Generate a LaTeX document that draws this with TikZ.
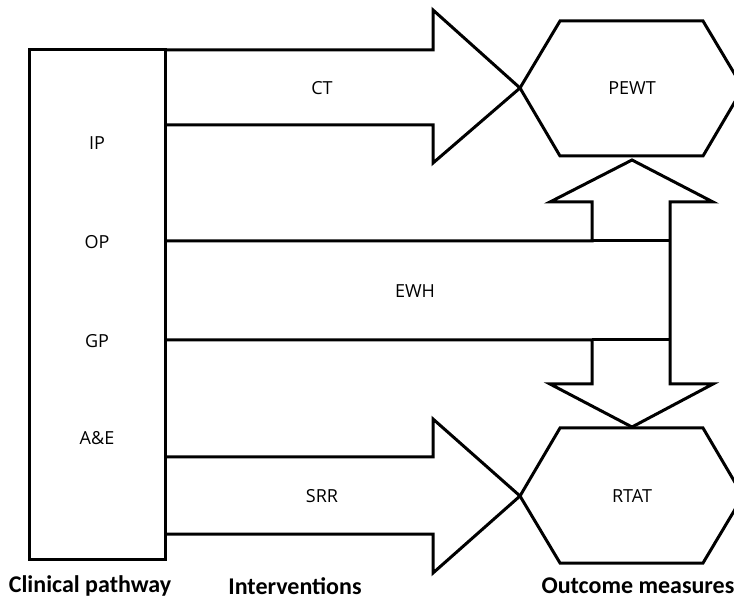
\documentclass[tikz,border=0pt]{standalone}
\usepackage{fontspec}
\setmainfont{Open Sans}
\newfontfamily\headfont{Carlito}
\begin{document}
\begin{tikzpicture}[x=1pt,y=-1pt,
  shapeline/.style={draw=black,line width=3pt,line join=miter},
  lbl/.style={font=\fontsize{18}{20}\selectfont,inner sep=0pt},
  head/.style={font=\headfont\bfseries\fontsize{24}{26}\selectfont,inner sep=0pt}]
\useasboundingbox (0,0) rectangle (734,601);
\clip (0,0) rectangle (734,601);
\fill[white] (0,0) rectangle (734,601);
% clinical pathway box
\draw[shapeline] (29,50) rectangle (165,559);
% CT arrow
\draw[shapeline] (165,50) -- (433,50) -- (433,10) -- (520,88) -- (433,163) -- (433,125) -- (165,125);
% SRR arrow
\draw[shapeline] (165,457) -- (433,457) -- (433,419) -- (520,496) -- (433,573) -- (433,534) -- (165,534);
% EWH band with double arrow
\draw[shapeline] (165,241) -- (592,241) -- (592,202) -- (550,202) -- (632,160) -- (713,202) -- (670,202)
  -- (670,384) -- (713,384) -- (632,427) -- (550,384) -- (592,384) -- (592,340) -- (165,340);
\draw[shapeline] (592,241) -- (670,241);
\draw[shapeline] (592,340) -- (670,340);
% hexagons
\draw[shapeline] (520,88) -- (560,21) -- (703,21) -- (743,88) -- (703,156) -- (560,156) -- cycle;
\draw[shapeline] (520,496) -- (560,428) -- (703,428) -- (743,496) -- (703,563) -- (560,563) -- cycle;
% labels
\node[lbl] (ip) at (97,143) {IP};
\node[lbl] (op) at (97,242) {OP};
\node[lbl] (gp) at (97,341) {GP};
\node[lbl] (ae) at (97,438) {A\&E};
\node[lbl] (ct) at (322,88) {CT};
\node[lbl] (ewh) at (415,291) {EWH};
\node[lbl] (srr) at (322,496) {SRR};
\node[lbl] (pewt) at (632,88) {PEWT};
\node[lbl] (rtat) at (632,496) {RTAT};
\node[head] (cp) at (90,586) {Clinical pathway};
\node[head] (iv) at (295,586) {Interventions};
\node[head] (om) at (638,586) {Outcome measures};
\end{tikzpicture}
\end{document}
